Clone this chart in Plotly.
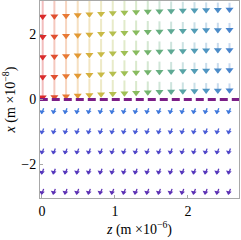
import plotly.graph_objects as go

# grid of arrow positions
z_cols = [0.01, 0.17, 0.33, 0.49, 0.65, 0.81, 0.97, 1.13, 1.29, 1.45,
          1.61, 1.77, 1.93, 2.09, 2.25, 2.41, 2.57]
x_rows_up = [0.35, 0.97, 1.59, 2.21, 2.83]
x_rows_dn = [-0.35, -0.97, -1.59, -2.21, -2.83]

# vector components (estimated)
up_dx = [-0.72, -0.70, -0.66, -0.62, -0.58, -0.54, -0.50, -0.47, -0.44,
         -0.41, -0.39, -0.37, -0.35, -0.33, -0.31, -0.30, -0.29]
dn_dz = [-0.025, -0.025, -0.025, -0.025, -0.025]
dn_dx = [-0.16, -0.16, -0.16, -0.16, -0.16]

up_colors = ["#d92b2b", "#e05030", "#e87a35", "#e39a35", "#d6b03e", "#c9bb48",
             "#b5bf50", "#9fc055", "#88bb5e", "#74b46c", "#66ae80", "#5ea994",
             "#58a4a6", "#539db6", "#4f95c2", "#4c8cc8", "#4884cc"]
dn_colors = ["#3f78dc", "#4a5cd6", "#5046c8", "#5638bc", "#5c30b4"]

fig = go.Figure()

# upper arrows
for zi, z in enumerate(z_cols):
    L = up_dx[zi]
    c = up_colors[zi]
    for x in x_rows_up:
        tail = x - L / 2
        tip = x + L / 2
        fig.add_trace(go.Scatter(x=[z, z], y=[tail, tip], mode="lines",
                                 line=dict(color=c, width=2), opacity=0.3,
                                 hoverinfo="skip", showlegend=False))
    fig.add_trace(go.Scatter(x=[z] * len(x_rows_up),
                             y=[x + up_dx[zi] / 2 + 0.08 for x in x_rows_up],
                             mode="markers",
                             marker=dict(symbol="triangle-down", size=7, color=c,
                                         line=dict(width=0)),
                             hoverinfo="skip", showlegend=False))

# lower arrows
for ri, x in enumerate(x_rows_dn):
    c = dn_colors[ri]
    dz = dn_dz[ri]
    dx = dn_dx[ri]
    xs, ys = [], []
    for z in z_cols:
        xs += [z - dz / 2, z + dz / 2, None]
        ys += [x - dx / 2, x + dx / 2, None]
    fig.add_trace(go.Scatter(x=xs, y=ys, mode="lines",
                             line=dict(color=c, width=1.3),
                             hoverinfo="skip", showlegend=False))
    fig.add_trace(go.Scatter(x=[z + dz / 2 for z in z_cols],
                             y=[x + dx / 2 + 0.05] * len(z_cols),
                             mode="markers",
                             marker=dict(symbol="triangle-down", size=5, color=c,
                                         angle=10, line=dict(width=0)),
                             hoverinfo="skip", showlegend=False))

# dashed line at x = 0
fig.add_trace(go.Scatter(x=[-0.03, 2.70], y=[0, 0], mode="lines",
                         line=dict(color="#7b1e86", width=3, dash="8px,4px"),
                         hoverinfo="skip", showlegend=False))

serif = "Liberation Serif, Times New Roman, serif"
font = dict(family=serif, size=14, color="black")
fig.update_layout(
    width=241, height=240,
    margin=dict(l=40, r=2, t=1, b=42),
    paper_bgcolor="white", plot_bgcolor="white",
    font=font,
    xaxis=dict(range=[-0.027, 2.70], tickvals=[0, 1, 2], ticktext=["0", "1", "2"],
               showgrid=False, zeroline=False, showline=True, mirror=True,
               linecolor="#a8a8a8", linewidth=1, ticks="inside", ticklen=3,
               tickcolor="#a8a8a8", tickfont=dict(family=serif, size=14),
               title=dict(text="<i>z</i> (m ×10<sup>−6</sup>)", standoff=4,
                          font=dict(family=serif, size=14))),
    yaxis=dict(range=[-3.03, 3.03], tickvals=[-2, 0, 2], ticktext=["−2", "0", "2"],
               showgrid=False, zeroline=False, showline=True, mirror=True,
               linecolor="#a8a8a8", linewidth=1, ticks="inside", ticklen=3,
               tickcolor="#a8a8a8", tickfont=dict(family=serif, size=14),
               title=dict(text="<i>x</i> (m ×10<sup>−8</sup>)", standoff=2,
                          font=dict(family=serif, size=14))),
)

fig.write_html("out.html", config={"displayModeBar": False},
               post_script="document.body.style.margin='0px';")
